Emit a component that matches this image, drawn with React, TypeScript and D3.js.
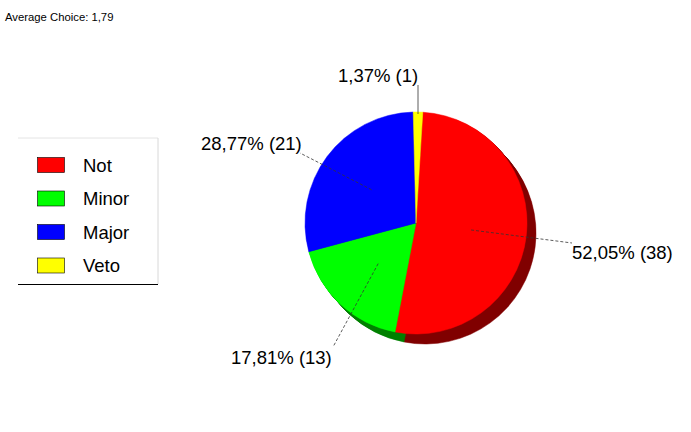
import React from "react";
import * as d3 from "d3";

const categories = ["Not", "Minor", "Major", "Veto"];
const counts = [38, 13, 21, 1];
const percentLabels = ["52,05%", "17,81%", "28,77%", "1,37%"];
const colors = ["#ff0000", "#00ff00", "#0000ff", "#ffff00"];
const darkColors = ["#800000", "#008000", "#000080", "#808000"];
const title = "Average Choice: 1,79";

// label anchor positions (px) for each slice label text
const labelPos = [
  { x: 572, y: 259, anchor: "start" },
  { x: 231, y: 364, anchor: "start" },
  { x: 201, y: 150, anchor: "start" },
  { x: 338, y: 82, anchor: "start" },
];
const lineEnds = [
  [572, 243],
  [333, 347],
  [300, 153],
  [418, 85],
];

export default function App() {
  const width = 691;
  const height = 432;
  const cx = 416;
  const cy = 223;
  const r = 111;
  const offset = (3.5 * Math.PI) / 180;
  const pie = d3
    .pie<number>()
    .sort(null)
    .startAngle(offset)
    .endAngle(offset + 2 * Math.PI);
  const arcs = pie(counts);
  const arc = d3.arc<d3.PieArcDatum<number>>().innerRadius(0).outerRadius(r);
  const depth = d3.range(1, 11);
  const font = "'Liberation Sans', Arial, sans-serif";

  return (
    <svg
      width={width}
      height={height}
      style={{ position: "absolute", left: 0, top: 0, background: "#fff" }}
    >
      <text x={5} y={21} fontFamily={font} fontSize={11.3} fill="#000">
        {title}
      </text>
      {/* legend */}
      <line x1={18} y1={138} x2={158} y2={138} stroke="#e4e4e4" />
      <line x1={158} y1={138} x2={158} y2={284} stroke="#d8d8d8" />
      <line x1={18} y1={284.5} x2={158} y2={284.5} stroke="#000" />
      {categories.map((c, i) => (
        <g key={c} transform={`translate(0,${157 + i * 33.5})`}>
          <rect x={37.5} y={0.5} width={27} height={15} fill={colors[i]} stroke="#000" strokeWidth={0.6} />
          <text x={83} y={14.5} fontFamily={font} fontSize={18.5} fill="#000">
            {c}
          </text>
        </g>
      ))}
      {/* extrusion */}
      {depth.map((d) => (
        <g key={d} transform={`translate(${cx + d * 0.9},${cy + d})`}>
          {arcs.map((a, i) => (
            <path key={i} d={arc(a) || ""} fill={darkColors[i]} stroke={darkColors[i]} strokeWidth={0.5} />
          ))}
        </g>
      ))}
      <g transform={`translate(${cx},${cy})`}>
        {arcs.map((a, i) => (
          <path key={i} d={arc(a) || ""} fill={colors[i]} stroke={colors[i]} strokeWidth={0.5} />
        ))}
      </g>
      {/* leader lines */}
      {arcs.map((a, i) => {
        const mid = (a.startAngle + a.endAngle) / 2;
        const rr = i === 3 ? r : r * 0.5;
        const sx = cx + rr * Math.sin(mid);
        const sy = cy - rr * Math.cos(mid);
        const [ex, ey] = lineEnds[i];
        return (
          <line
            key={i}
            x1={i === 3 ? ex : sx}
            y1={i === 3 ? cy - r + 2 : sy}
            x2={ex}
            y2={ey}
            stroke="#333"
            strokeWidth={0.8}
            strokeDasharray={i === 3 ? undefined : "3,2"}
          />
        );
      })}
      {arcs.map((a, i) => (
        <text
          key={i}
          x={labelPos[i].x}
          y={labelPos[i].y}
          fontFamily={font}
          fontSize={18.5}
          fill="#000"
          textAnchor={labelPos[i].anchor as any}
        >
          {`${percentLabels[i]} (${counts[i]})`}
        </text>
      ))}
    </svg>
  );
}
